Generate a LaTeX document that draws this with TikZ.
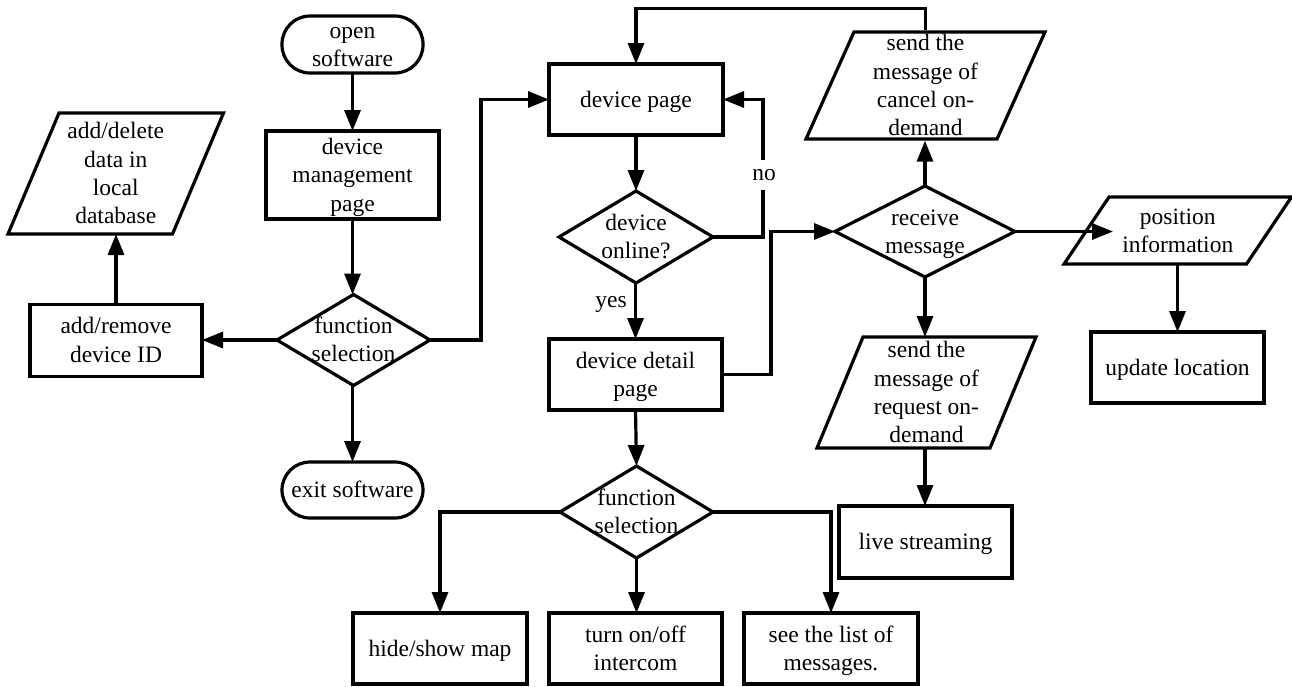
\documentclass[tikz,border=0pt]{standalone}
\usepackage{fontspec}
\setmainfont{Liberation Serif}
\usetikzlibrary{shapes.geometric,arrows.meta,calc}

% line struts so every text line keeps the full ascent and descent of the font
\newcommand\topstrut{\rule{0pt}{20.5pt}}
\newcommand\botstrut{\rule[-5pt]{0pt}{5pt}}

\tikzset{
  every node/.style={font=\fontsize{23.5pt}{28.3pt}\selectfont},
  outline/.style={draw, line width=3.2pt, line join=miter},
  proc/.style={outline, rectangle, inner sep=0pt, outer sep=0pt, align=center},
  term/.style={outline, rectangle, rounded corners=28pt, inner sep=0pt, outer sep=0pt, align=center},
  dec/.style={outline, diamond, inner sep=0pt, outer sep=0pt},
  txt/.style={inner sep=0pt, outer sep=0pt, align=center},
  arr/.style={line width=3.2pt, -{Triangle[length=21pt,width=16pt]}},
  lbl/.style={inner xsep=2pt, inner ysep=9pt, fill=white},
}

% input/output box: name, centre, width, height, slant, text
\newcommand\slantio[6]{%
  \node[txt, minimum width=#3pt, minimum height=#4pt] (#1) at (#2) {#6};
  \draw[outline, shift={(#2)}]
    ({-#3/2+#5/2},{-#4/2}) -- ({#3/2+#5/2},{-#4/2}) --
    ({#3/2-#5/2},{#4/2}) -- ({-#3/2-#5/2},{#4/2}) -- cycle;
}

\begin{document}
\begin{tikzpicture}[x=1pt, y=-1pt]
\useasboundingbox (0,0) rectangle (1292,686);

% left column: device management
\node[term, minimum width=141pt, minimum height=57pt] (open) at (352.5,44.5) {\topstrut open\\software\botstrut};
\node[proc, minimum width=173pt, minimum height=88pt] (devmgmt) at (352.5,175) {\topstrut device\\management\\page\botstrut};
\node[dec, minimum width=153pt, minimum height=91pt] (fs1) at (353.5,340) {};
\node[txt] (fs1t) at (fs1) {\topstrut function\\selection\botstrut};
\node[proc, minimum width=172pt, minimum height=72pt] (addrm) at (116,340.3) {\topstrut add/remove\\device ID\botstrut};
\slantio{adddel}{115.75,173.5}{164.5}{121}{51}{\topstrut add/delete\\data in\\local\\database\botstrut}
\node[term, minimum width=141pt, minimum height=56pt] (exit) at (352.5,490) {\topstrut exit software\botstrut};

% middle column: device pages
\node[proc, minimum width=174pt, minimum height=71pt] (devpage) at (636,99.5) {\topstrut device page\botstrut};
\node[dec, minimum width=154pt, minimum height=92pt] (online) at (636,237) {};
\node[txt] (onlinet) at (online) {\topstrut device\\online?\botstrut};
\node[proc, minimum width=173pt, minimum height=71pt] (detail) at (635.5,374.5) {\topstrut device detail\\page\botstrut};
\node[dec, minimum width=153pt, minimum height=92pt] (fs2) at (636.5,512) {};
\node[txt] (fs2t) at (fs2) {\topstrut function\\selection\botstrut};
\node[proc, minimum width=174pt, minimum height=71pt] (hide) at (440,648.5) {\topstrut hide/show map\botstrut};
\node[proc, minimum width=173pt, minimum height=71pt] (intercom) at (635.5,648.5) {\topstrut turn on/off\\intercom\botstrut};
\node[proc, minimum width=174pt, minimum height=71pt] (msglist) at (831,648.5) {\topstrut see the list of\\messages.\botstrut};

% right part: messages
\node[dec, minimum width=180pt, minimum height=91pt] (recv) at (925,231.5) {};
\node[txt] (recvt) at (recv) {\topstrut receive\\message\botstrut};
\slantio{cancel}{925.5,85.5}{191}{107}{48}{\topstrut send the\\message of\\cancel on-\\demand\botstrut}
\slantio{req}{926.5,392.5}{173}{111}{46}{\topstrut send the\\message of\\request on-\\demand\botstrut}
\slantio{pos}{1177.75,230.5}{182.5}{67}{45}{\topstrut position\\information\botstrut}
\node[proc, minimum width=173pt, minimum height=72pt] (live) at (925.5,542) {\topstrut live streaming\botstrut};
\node[proc, minimum width=173pt, minimum height=71pt] (update) at (1177.5,367.5) {\topstrut update location\botstrut};
\coordinate (posin) at (1113,232);
\coordinate (nobend) at (763,237);

% connectors
\draw[arr] (open.south) -- (devmgmt.north);
\draw[arr] (devmgmt.south) -- (devmgmt.south |- fs1.north);
\draw[arr] (fs1.west) -- (addrm.east |- fs1.west);
\draw[arr] (addrm.north) -- (addrm.north |- adddel.south);
\draw[arr] (fs1.south) -- (fs1.south -| exit.north) -- (exit.north);
\draw[arr] (fs1.east) -- ++(51,0) |- (devpage.west);
\draw[arr] (devpage.south) -- (online.north);
\draw[arr] (online.east) -- (nobend) |- (devpage.east);
\node[lbl] (no) at (764,175) {no};
\draw[arr] (online.south) -- (detail.north |- online.south) -- (detail.north);
\node[txt] (yes) at (611,304) {yes};
\draw[arr] (detail.east) -- ++(49,0) |- (recv.west);
\draw[arr] (recv.north) -- (recv.north |- cancel.south);
\draw[arr] (cancel.north) -- ++(0,-22) -| (devpage.north);
\draw[arr] (recv.south) -- (recv.south |- req.north);
\draw[arr] (recv.south |- req.south) -- (recv.south |- live.north);
\draw[arr] (recv.east) -- (recv.east -| posin);
\draw[arr] (update.north |- pos.south) -- (update.north);
\draw[arr] (detail.south) -- (fs2.north);
\draw[arr] (fs2.west) -| (hide.north);
\draw[arr] (fs2.south) -- (intercom.north -| fs2.south);
\draw[arr] (fs2.east) -| (msglist.north);
\end{tikzpicture}
\end{document}
